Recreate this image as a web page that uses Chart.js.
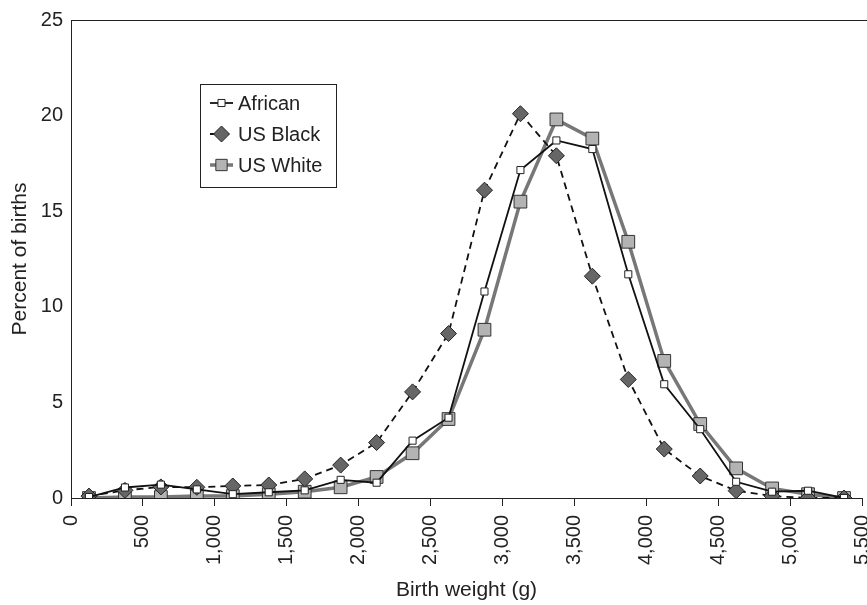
<!DOCTYPE html>
<html>
<head>
<meta charset="utf-8">
<script src="https://cdn.jsdelivr.net/npm/chart.js@4.4.1/dist/chart.umd.min.js"></script>
<style>
  html, body { margin: 0; padding: 0; background: #fff; }
  #wrap { width: 867px; height: 605px; }
</style>
</head>
<body>
<div id="wrap"><canvas id="bw"></canvas></div>
<script>
// birth weight bin midpoints (g)
const weights = [125, 375, 625, 875, 1125, 1375, 1625, 1875, 2125, 2375, 2625,
                 2875, 3125, 3375, 3625, 3875, 4125, 4375, 4625, 4875, 5125, 5375];

// percent of births
const african = [0.05, 0.55, 0.7, 0.45, 0.2, 0.3, 0.4, 0.95, 0.8, 3.0, 4.2,
                 10.8, 17.15, 18.7, 18.25, 11.7, 5.95, 3.6, 0.85, 0.33, 0.38, 0.0];
const usBlack = [0.1, 0.4, 0.58, 0.56, 0.63, 0.68, 1.0, 1.72, 2.9, 5.55, 8.6,
                 16.1, 20.1, 17.9, 11.6, 6.2, 2.56, 1.15, 0.38, 0.1, 0.0, 0.0];
const usWhite = [0.0, 0.05, 0.05, 0.1, 0.1, 0.2, 0.33, 0.56, 1.1, 2.34, 4.13,
                 8.8, 15.5, 19.8, 18.8, 13.4, 7.17, 3.87, 1.55, 0.5, 0.2, 0.0];

const seriesNames = ["African", "US Black", "US White"];

const xTicks = [0, 500, 1000, 1500, 2000, 2500, 3000, 3500, 4000, 4500, 5000, 5500];
const yTicks = [0, 5, 10, 15, 20, 25];

const FONT = "'Liberation Sans', Arial, Helvetica, sans-serif";

function pts(vals) {
    return weights.map((w, i) => ({ x: w, y: vals[i] }));
}

// legend drawn inside the plot, with a box round it
const boxLegend = {
    id: "boxLegend",
    afterDraw(chart) {
        const ctx = chart.ctx;
        const x0 = 200, y0 = 84, w = 136, h = 103;
        ctx.save();
        ctx.fillStyle = "#fff";
        ctx.fillRect(x0, y0, w, h);
        ctx.strokeStyle = "#222";
        ctx.lineWidth = 1;
        ctx.strokeRect(x0 + 0.5, y0 + 0.5, w, h);

        chart.data.datasets.forEach((ds, i) => {
            const cy = y0 + 19 + i * 31;
            ctx.save();
            ctx.strokeStyle = ds.borderColor;
            ctx.lineWidth = ds.borderWidth;
            ctx.setLineDash(ds.borderDash || []);
            ctx.beginPath();
            ctx.moveTo(x0 + 10, cy);
            ctx.lineTo(x0 + 33, cy);
            ctx.stroke();
            ctx.restore();

            ctx.save();
            ctx.fillStyle = ds.pointBackgroundColor;
            ctx.strokeStyle = ds.pointBorderColor;
            ctx.lineWidth = ds.pointBorderWidth;
            Chart.helpers.drawPoint(ctx, {
                pointStyle: ds.pointStyle,
                radius: ds.legendRadius,
                borderWidth: ds.pointBorderWidth,
                rotation: 0
            }, x0 + 21.5, cy);
            ctx.restore();

            ctx.fillStyle = "#222";
            ctx.font = "20px " + FONT;
            ctx.textBaseline = "middle";
            ctx.textAlign = "left";
            ctx.fillText(ds.label, x0 + 38, cy + 1);
        });
        ctx.restore();
    }
};

// top frame line
const topFrame = {
    id: "topFrame",
    afterDraw(chart) {
        const { ctx, chartArea } = chart;
        ctx.save();
        ctx.strokeStyle = "#222";
        ctx.lineWidth = 1;
        ctx.beginPath();
        ctx.moveTo(chartArea.left, chartArea.top + 0.5);
        ctx.lineTo(chart.width, chartArea.top + 0.5);
        ctx.stroke();
        ctx.restore();
    }
};

new Chart(document.getElementById("bw"), {
    type: "line",
    data: {
        datasets: [
            {
                label: seriesNames[0],
                data: pts(african),
                borderColor: "#111",
                borderWidth: 1.8,
                pointStyle: "rect",
                pointRadius: 5,
                legendRadius: 5,
                pointBackgroundColor: "#fff",
                pointBorderColor: "#222",
                pointBorderWidth: 1,
                tension: 0,
                order: 1
            },
            {
                label: seriesNames[1],
                data: pts(usBlack),
                borderColor: "#111",
                borderWidth: 1.8,
                borderDash: [7, 5],
                pointStyle: "rectRot",
                pointRadius: 8,
                legendRadius: 8,
                pointBackgroundColor: "#666",
                pointBorderColor: "#222",
                pointBorderWidth: 1,
                tension: 0,
                order: 2
            },
            {
                label: seriesNames[2],
                data: pts(usWhite),
                borderColor: "#777",
                borderWidth: 3.5,
                pointStyle: "rect",
                pointRadius: 9,
                legendRadius: 8,
                pointBackgroundColor: "#b3b3b3",
                pointBorderColor: "#333",
                pointBorderWidth: 1,
                tension: 0,
                order: 3
            }
        ]
    },
    options: {
        responsive: true,
        maintainAspectRatio: false,
        animation: false,
        layout: {
            autoPadding: false,
            padding: { top: 20, right: 5, left: 0, bottom: 0 }
        },
        plugins: {
            legend: { display: false },
            tooltip: { enabled: false }
        },
        scales: {
            x: {
                type: "linear",
                min: 0,
                max: 5500,
                afterBuildTicks: s => { s.ticks = xTicks.map(v => ({ value: v })); },
                afterFit: s => {
                    s.height = 107;
                    s.paddingLeft = 0;
                    s.paddingRight = 0;
                },
                ticks: {
                    minRotation: 90,
                    maxRotation: 90,
                    padding: 9,
                    color: "#222",
                    font: { family: FONT, size: 20 },
                    callback: v => v.toLocaleString("en-US")
                },
                grid: {
                    drawOnChartArea: false,
                    drawTicks: true,
                    tickLength: 8,
                    color: "#222"
                },
                border: { color: "#222", width: 1 },
                title: {
                    display: true,
                    text: "Birth weight (g)",
                    color: "#222",
                    font: { family: FONT, size: 21 },
                    padding: { top: 0, bottom: 2 }
                }
            },
            y: {
                min: 0,
                max: 25,
                afterBuildTicks: s => { s.ticks = yTicks.map(v => ({ value: v })); },
                afterFit: s => {
                    s.width = 71;
                    s.paddingTop = 0;
                    s.paddingBottom = 0;
                },
                ticks: {
                    padding: 8,
                    color: "#222",
                    font: { family: FONT, size: 20 }
                },
                grid: {
                    drawOnChartArea: false,
                    drawTicks: false
                },
                border: { color: "#222", width: 1 },
                title: {
                    display: true,
                    text: "Percent of births",
                    color: "#222",
                    font: { family: FONT, size: 21 },
                    padding: { top: 8, bottom: 0 }
                }
            }
        }
    },
    plugins: [topFrame, boxLegend]
});
</script>
</body>
</html>
